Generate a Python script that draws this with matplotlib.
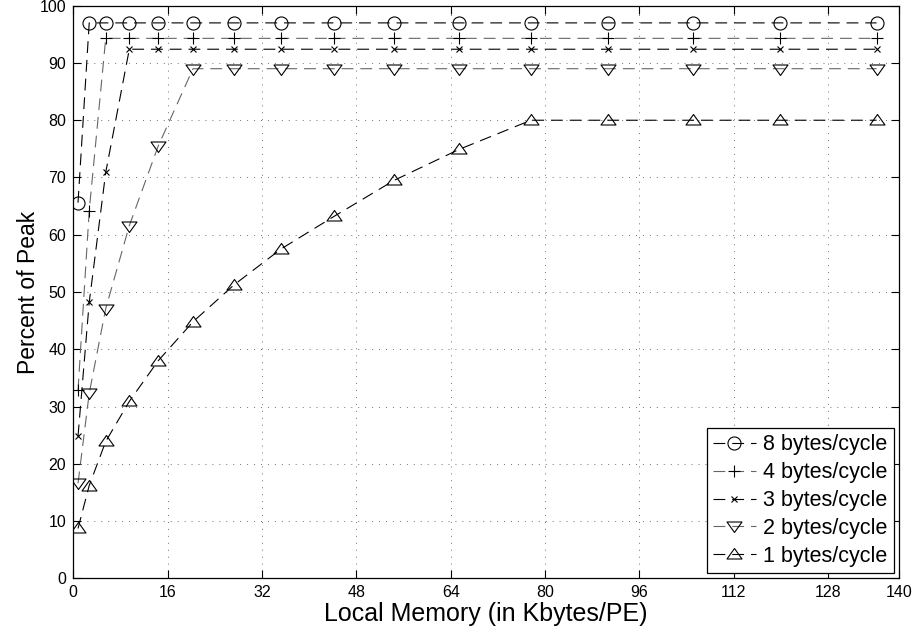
import numpy as np
from matplotlib import pyplot as plt
from matplotlib.path import Path

plt.rcParams["font.family"] = ["Liberation Sans", "DejaVu Sans"]
plt.rcParams["lines.scale_dashes"] = False

# Local memory per PE (Kbytes) and percent of peak for each bandwidth
mem_kb = [0.8, 2.7, 5.5, 9.5, 14.4, 20.3, 27.2, 35.2, 44.2, 54.4, 65.4, 77.6, 90.6, 105.0, 119.8, 136.2]
pct_8 = [65.6, 97.0, 97.0, 97.0, 97.0, 97.0, 97.0, 97.0, 97.0, 97.0, 97.0, 97.0, 97.0, 97.0, 97.0, 97.0]
pct_4 = [32.8, 64.2, 94.3, 94.3, 94.3, 94.3, 94.3, 94.3, 94.3, 94.3, 94.3, 94.3, 94.3, 94.3, 94.3, 94.3]
pct_3 = [24.8, 48.2, 70.9, 92.4, 92.4, 92.4, 92.4, 92.4, 92.4, 92.4, 92.4, 92.4, 92.4, 92.4, 92.4, 92.4]
pct_2 = [16.6, 32.3, 47.1, 61.6, 75.5, 89.0, 89.0, 89.0, 89.0, 89.0, 89.0, 89.0, 89.0, 89.0, 89.0, 89.0]
pct_1 = [8.7, 16.2, 23.9, 30.9, 38.0, 44.8, 51.2, 57.5, 63.2, 69.5, 74.9, 80.0, 80.0, 80.0, 80.0, 80.0]
labels = ["8 bytes/cycle", "4 bytes/cycle", "3 bytes/cycle", "2 bytes/cycle", "1 bytes/cycle"]

xticks = [0, 16, 32, 48, 64, 80, 96, 112, 128, 140]
yticks = list(range(0, 101, 10))

# wide MATLAB-like triangles
tri_up = Path([(-1, -0.6), (1, -0.6), (0, 0.8), (-1, -0.6)], closed=True)
tri_down = Path([(-1, 0.6), (1, 0.6), (0, -0.8), (-1, 0.6)], closed=True)

series = [
    (pct_8, "o", 9.4, "k"),
    (pct_4, "+", 8.5, "0.4"),
    (pct_3, "x", 4.5, "k"),
    (pct_2, tri_down, 10.8, "0.4"),
    (pct_1, tri_up, 10.8, "k"),
]

fig = plt.figure(figsize=(9.15, 6.35), dpi=100)
ax = fig.add_axes([0.0801, 0.0893, 0.9024, 0.9017])

for (y, m, ms, lc), lab in zip(series, labels):
    ax.plot(mem_kb, y, color=lc, lw=0.8, dashes=(8.5, 5.0), marker=m, ms=ms,
            mfc="none", mec="k", mew=0.8, label=lab)

ax.set_xlim(0, 140)
ax.set_ylim(0, 100)
ax.set_xticks(xticks)
ax.set_yticks(yticks)
ax.tick_params(direction="in", length=5.5, width=0.8, labelsize=11.5, pad=5,
               top=True, right=True)
ax.grid(True, color="0.35", lw=0.6, linestyle=(0, (0.7, 4.3)))
for s in ax.spines.values():
    s.set_linewidth(0.9)

ax.set_xlabel("Local Memory (in Kbytes/PE)", fontsize=18, labelpad=1)
ax.set_ylabel("Percent of Peak", fontsize=16.5, labelpad=0)

leg = ax.legend(loc="lower right", fontsize=15.5, fancybox=False, framealpha=1,
                edgecolor="k", borderaxespad=0.25, handlelength=2.0,
                handletextpad=0.35, labelspacing=0.32, borderpad=0.28)
leg.get_frame().set_linewidth(0.9)

fig.savefig("out.png", dpi=100)
